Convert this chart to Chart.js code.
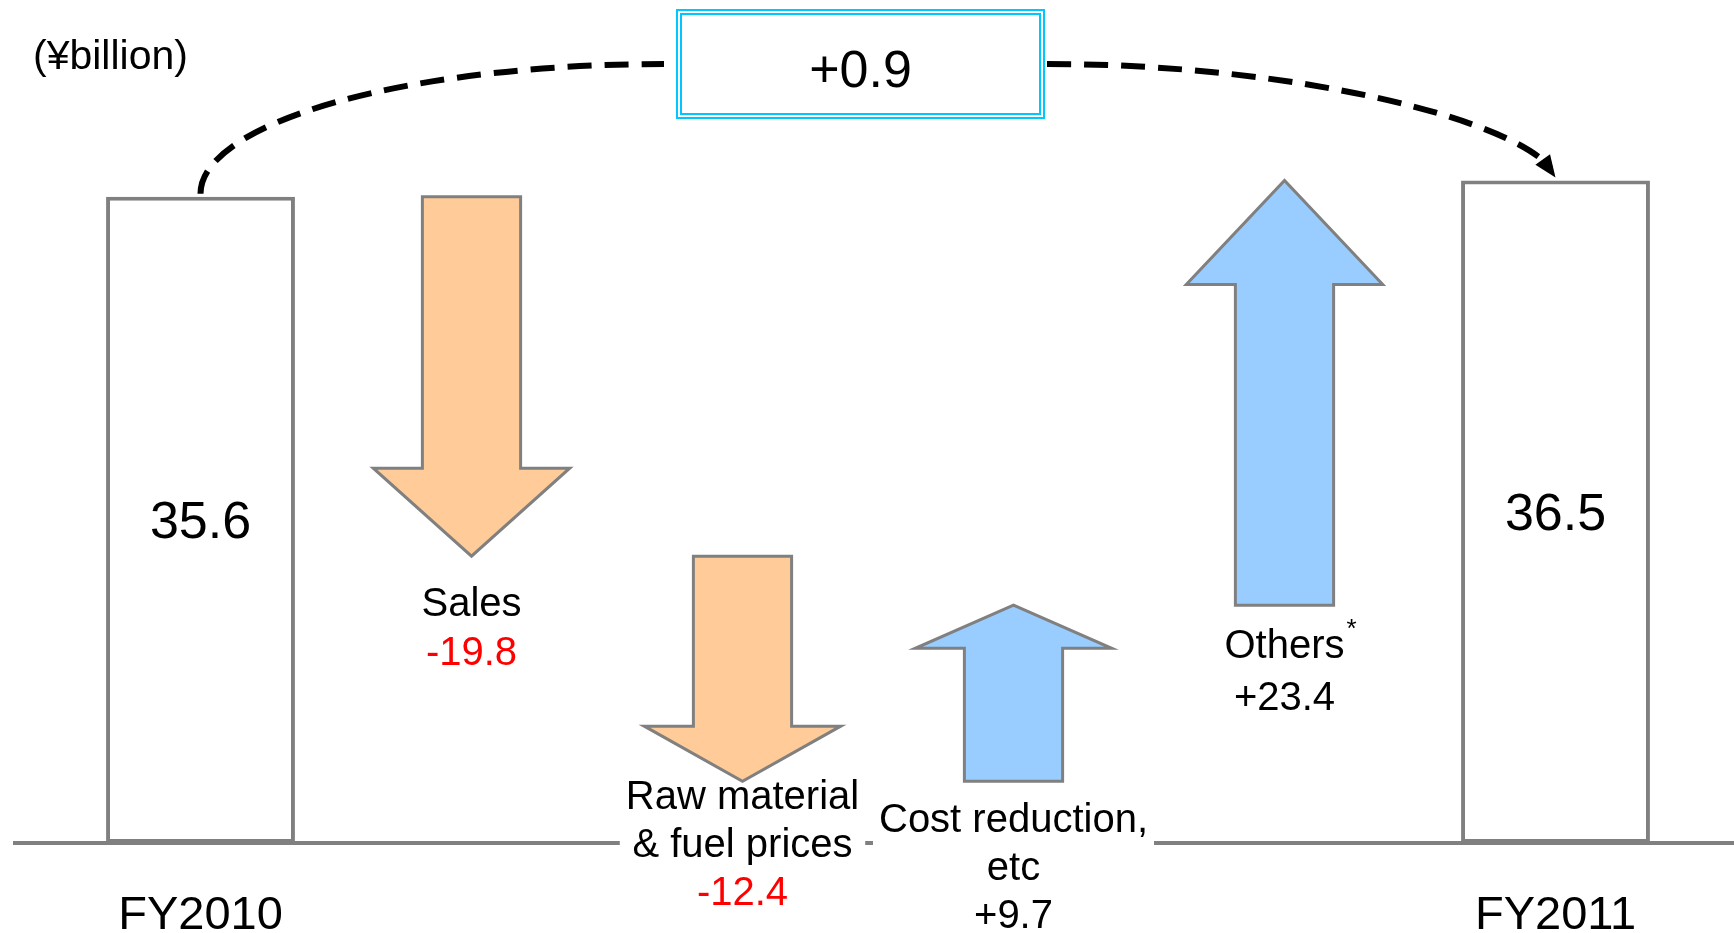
<!DOCTYPE html>
<html>
<head>
<meta charset="utf-8">
<title>Operating income change FY2010 to FY2011</title>
<script src="https://cdn.jsdelivr.net/npm/chart.js@4.4.0/dist/chart.umd.min.js"></script>
<style>
  html, body { margin: 0; padding: 0; background: #fff; }
  #wrap { width: 1734px; height: 933px; position: relative; }
</style>
</head>
<body>
<div id="wrap"><canvas id="bridge"></canvas></div>
<script>
const unitLabel = "(¥billion)";
const startLabel = "FY2010";
const endLabel = "FY2011";
const startValue = 35.6;
const endValue = 36.5;
const factorNames = [["Sales"], ["Raw material", "& fuel prices"], ["Cost reduction,", "etc"], ["Others"]];
const factorValues = [-19.8, -12.4, 9.7, 23.4];
const footnoteMarks = ["", "", "", "*"];

const FONT = '"Liberation Sans", Arial, sans-serif';
const GREY = "#808080";
const DOWN_FILL = "#FFCC99";
const UP_FILL = "#99CCFF";

// running totals -> [from, to] per column
let running = startValue;
const ranges = [[0, startValue]];
factorValues.forEach(v => {
    ranges.push([running, +(running + v).toFixed(1)]);
    running = +(running + v).toFixed(1);
});
ranges.push([0, endValue]);

const labels = [startLabel].concat(factorNames.map(n => n.join(" ")), [endLabel]);
const isTotal = i => i === 0 || i === ranges.length - 1;

// gap (px) between arrow end and first label line, and line spacing
const labelGap = [0, 49, 17, 40, 42, 0];
const lineStep = [0, 49, 48, 48, 52, 0];

function fmt(v) {
    return (v > 0 ? "+" : "") + v.toFixed(1);
}

const bridgeArt = {
    id: "bridgeArt",
    beforeDatasetsDraw(chart) {
        const ctx = chart.ctx;
        const y0 = chart.scales.y.getPixelForValue(0);
        ctx.save();
        ctx.strokeStyle = GREY;
        ctx.lineWidth = 4;
        ctx.beginPath();
        ctx.moveTo(13, y0);
        ctx.lineTo(chart.width, y0);
        ctx.stroke();
        ctx.restore();
    },
    afterDatasetsDraw(chart) {
        const ctx = chart.ctx;
        const yScale = chart.scales.y;
        const meta = chart.getDatasetMeta(0);
        ctx.save();

        // label blocks for the factor arrows
        const blocks = [];
        for (let i = 1; i < ranges.length - 1; i++) {
            const el = meta.data[i];
            const yFrom = yScale.getPixelForValue(ranges[i][0]);
            const yTo = yScale.getPixelForValue(ranges[i][1]);
            const lines = factorNames[i - 1];
            const first = Math.max(yFrom, yTo) + labelGap[i];
            ctx.font = "40px " + FONT;
            let w = 0;
            lines.concat([fmt(factorValues[i - 1])]).forEach(t => {
                w = Math.max(w, ctx.measureText(t).width);
            });
            blocks.push({ i, el, yFrom, yTo, lines, first, w, step: lineStep[i] });
        }

        // white boxes behind labels (they break the baseline)
        ctx.fillStyle = "#fff";
        blocks.forEach(b => {
            const n = b.lines.length + 1;
            ctx.fillRect(b.el.x - b.w / 2 - 6, b.first - 22, b.w + 12, (n - 1) * b.step + 44);
        });

        // arrows
        blocks.forEach(b => {
            const x = b.el.x;
            const sh = b.el.width * 0.26;
            const hh = b.el.width * 0.52;
            const dir = Math.sign(b.yTo - b.yFrom);
            const headLen = Math.abs(b.yTo - b.yFrom) * 0.245;
            const yHead = b.yTo - dir * headLen;
            ctx.beginPath();
            ctx.moveTo(x - sh, b.yFrom);
            ctx.lineTo(x + sh, b.yFrom);
            ctx.lineTo(x + sh, yHead);
            ctx.lineTo(x + hh, yHead);
            ctx.lineTo(x, b.yTo);
            ctx.lineTo(x - hh, yHead);
            ctx.lineTo(x - sh, yHead);
            ctx.closePath();
            ctx.fillStyle = factorValues[b.i - 1] < 0 ? DOWN_FILL : UP_FILL;
            ctx.fill();
            ctx.strokeStyle = GREY;
            ctx.lineWidth = 3;
            ctx.lineJoin = "miter";
            ctx.stroke();
        });

        // label text
        ctx.textAlign = "center";
        ctx.textBaseline = "middle";
        blocks.forEach(b => {
            const x = b.el.x;
            ctx.font = "40px " + FONT;
            ctx.fillStyle = "#000";
            b.lines.forEach((t, k) => {
                ctx.fillText(t, x, b.first + k * b.step);
            });
            const mark = footnoteMarks[b.i - 1];
            if (mark) {
                const tw = ctx.measureText(b.lines[0]).width;
                ctx.font = "26px " + FONT;
                ctx.textAlign = "left";
                ctx.fillText(mark, x + tw / 2 + 2, b.first - 17);
                ctx.textAlign = "center";
                ctx.font = "40px " + FONT;
            }
            const v = factorValues[b.i - 1];
            ctx.fillStyle = v < 0 ? "#FF0000" : "#000";
            ctx.fillText(fmt(v), x, b.first + b.lines.length * b.step);
        });

        // totals: value inside bar and year below axis
        const yBase = yScale.getPixelForValue(0);
        [0, ranges.length - 1].forEach(i => {
            const el = meta.data[i];
            ctx.fillStyle = "#000";
            ctx.font = "52px " + FONT;
            ctx.fillText(ranges[i][1].toFixed(1), el.x, (el.y + el.base) / 2 + 4);
            ctx.font = "47px " + FONT;
            ctx.fillText(labels[i], el.x, yBase + 73);
        });

        // unit label
        ctx.textAlign = "left";
        ctx.font = "41px " + FONT;
        ctx.fillText(unitLabel, 33, 58);

        // dashed connector with the net change box
        const a = meta.data[0];
        const z = meta.data[ranges.length - 1];
        const boxW = 369, boxH = 110;
        const boxX = 676;
        const boxY = 9;
        const midY = boxY + boxH / 2;

        ctx.strokeStyle = "#000";
        ctx.lineWidth = 6;
        ctx.setLineDash([24, 13]);
        ctx.beginPath();
        const cx = boxX - 12;
        const sy = a.y - 3;
        ctx.ellipse(cx, sy, cx - a.x, sy - midY, 0, Math.PI, 1.5 * Math.PI);
        ctx.stroke();

        const p0 = { x: boxX + boxW + 2, y: midY };
        const p3 = { x: z.x, y: z.y - 3 };
        const p1 = { x: p0.x + (p3.x - p0.x) * 0.5, y: midY };
        const p2 = { x: p3.x - 40, y: p3.y - 56 };
        ctx.beginPath();
        ctx.moveTo(p0.x, p0.y);
        ctx.bezierCurveTo(p1.x, p1.y, p2.x, p2.y, p3.x - 5, p3.y - 9);
        ctx.stroke();
        ctx.setLineDash([]);

        // arrowhead
        const dx = p3.x - p2.x, dy = p3.y - p2.y;
        const len = Math.hypot(dx, dy);
        const ux = dx / len, uy = dy / len;
        const bx = p3.x - ux * 22, by = p3.y - uy * 22;
        ctx.fillStyle = "#000";
        ctx.beginPath();
        ctx.moveTo(p3.x, p3.y);
        ctx.lineTo(bx - uy * 9, by + ux * 9);
        ctx.lineTo(bx + uy * 9, by - ux * 9);
        ctx.closePath();
        ctx.fill();

        // double-line box
        ctx.fillStyle = "#fff";
        ctx.fillRect(boxX, boxY, boxW, boxH);
        ctx.strokeStyle = "#00C8FF";
        ctx.lineWidth = 2;
        ctx.strokeRect(boxX + 1, boxY + 1, boxW - 2, boxH - 2);
        ctx.strokeRect(boxX + 5, boxY + 5, boxW - 10, boxH - 10);
        ctx.fillStyle = "#000";
        ctx.textAlign = "center";
        ctx.font = "52px " + FONT;
        ctx.fillText(fmt(+(endValue - startValue).toFixed(1)), boxX + boxW / 2, midY + 9);

        ctx.restore();
    }
};

new Chart(document.getElementById("bridge"), {
    type: "bar",
    data: {
        labels: labels,
        datasets: [
            {
                data: ranges,
                backgroundColor: (c) => (isTotal(c.dataIndex) ? "#fff" : "rgba(0,0,0,0)"),
                borderColor: (c) => (isTotal(c.dataIndex) ? GREY : "rgba(0,0,0,0)"),
                borderWidth: (c) => (isTotal(c.dataIndex) ? 4 : 0),
                borderSkipped: false,
                barPercentage: 1,
                categoryPercentage: 0.697,
            },
        ],
    },
    options: {
        responsive: true,
        maintainAspectRatio: false,
        animation: false,
        layout: { padding: { left: 65, right: 43, top: 8, bottom: 90 } },
        plugins: {
            legend: { display: false },
            tooltip: { enabled: false },
        },
        scales: {
            x: { display: false, offset: true },
            y: { display: false, min: 0, max: 46 },
        },
    },
    plugins: [bridgeArt],
});
</script>
</body>
</html>
